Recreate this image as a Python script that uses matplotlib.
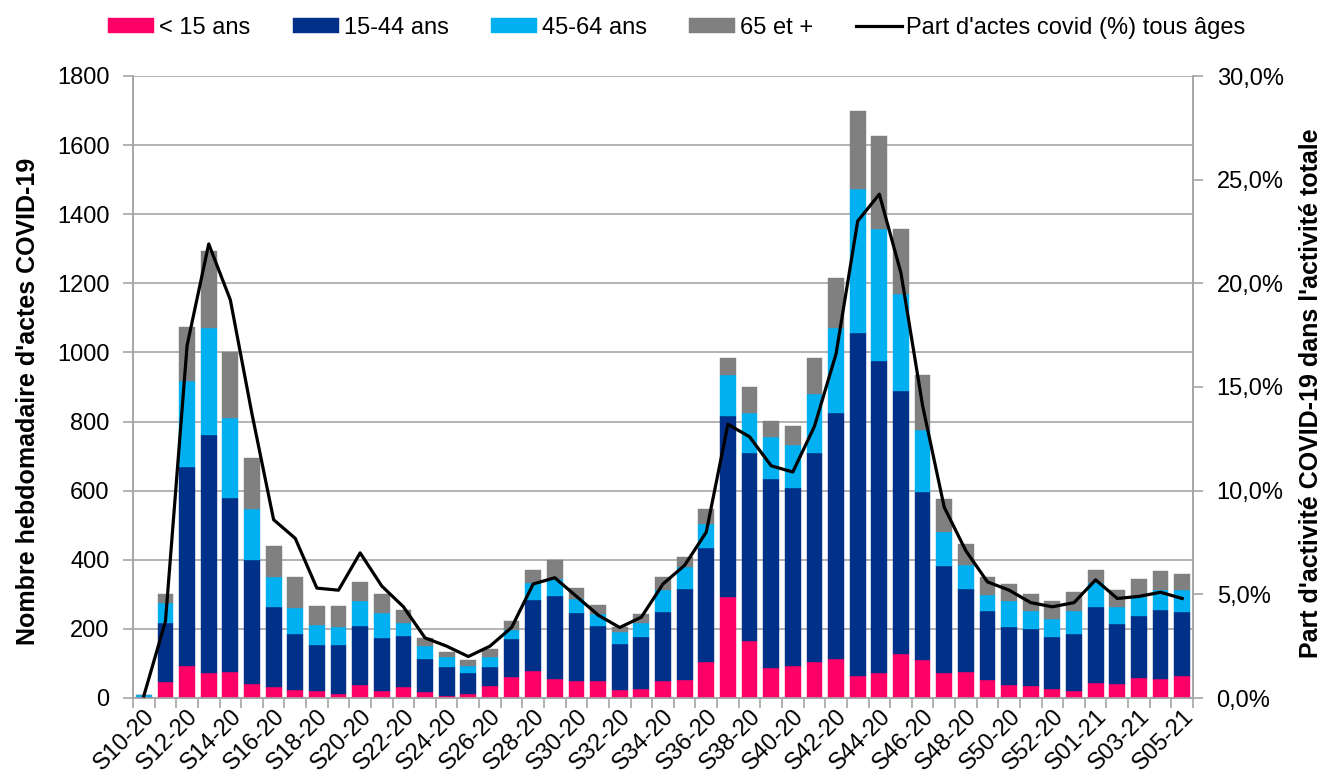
import matplotlib
matplotlib.use("Agg")
import matplotlib.pyplot as plt
import numpy as np
from matplotlib.ticker import FuncFormatter, MultipleLocator, FixedLocator

plt.rcParams['font.family'] = ['Liberation Sans', 'DejaVu Sans']

weeks = (["S%02d-20" % w for w in range(10, 54)] + ["S%02d-21" % w for w in range(1, 6)])

moins15 = [0, 47, 93, 71, 74, 40, 31, 22, 19, 13, 38, 21, 33, 16, 6, 12, 35, 62, 78, 54,
           48, 48, 23, 25, 49, 52, 104, 292, 165, 87, 93, 103, 112, 64, 72, 126, 110, 72, 75, 51,
           38, 36, 27, 19, 42, 40, 57, 55, 63]
a15_44 = [3, 169, 576, 691, 506, 360, 231, 162, 135, 141, 169, 154, 145, 98, 83, 61, 56, 109, 207, 242,
          199, 160, 134, 151, 201, 262, 331, 525, 545, 548, 515, 607, 712, 991, 904, 762, 485, 311, 240, 200,
          168, 165, 149, 167, 221, 175, 181, 201, 187]
a45_64 = [6, 58, 248, 310, 230, 146, 89, 76, 58, 52, 73, 70, 38, 36, 29, 20, 27, 26, 47, 49,
          40, 35, 33, 40, 62, 66, 68, 117, 116, 119, 124, 169, 246, 417, 381, 282, 180, 97, 71, 48,
          74, 50, 53, 67, 69, 48, 55, 57, 63]
a65plus = [1, 27, 156, 221, 191, 149, 89, 91, 54, 60, 56, 56, 38, 24, 16, 16, 24, 26, 38, 54,
           30, 26, 16, 28, 37, 29, 45, 50, 75, 48, 55, 104, 146, 226, 270, 188, 160, 96, 61, 50,
           51, 51, 52, 54, 38, 50, 50, 55, 46]
part_covid = [0.1, 3.7, 17.0, 21.9, 19.2, 13.7, 8.6, 7.7, 5.3, 5.2, 7.0, 5.4, 4.4, 2.9, 2.5, 2.0, 2.5, 3.4, 5.5, 5.8,
              4.9, 4.0, 3.4, 3.9, 5.5, 6.4, 8.0, 13.2, 12.6, 11.2, 10.9, 13.1, 16.6, 23.0, 24.3, 20.5, 14.1, 9.2, 7.1, 5.6,
              5.2, 4.6, 4.4, 4.6, 5.7, 4.8, 4.9, 5.1, 4.8]

series_names = ["< 15 ans", "15-44 ans", "45-64 ans", "65 et +"]
line_name = "Part d'actes covid (%) tous âges"
colors = ["#FF0066", "#003087", "#00B0F0", "#808080"]

FS = 17

fig = plt.figure(figsize=(13.23, 7.79), dpi=100)
ax = fig.add_axes([133/1323, 1-698/779, (1193-133)/1323, (698-76)/779])
ax2 = ax.twinx()

x = np.arange(len(weeks))
bottom = np.zeros(len(weeks))
handles = []
for vals, c, name in zip([moins15, a15_44, a45_64, a65plus], colors, series_names):
    v = np.array(vals, dtype=float)
    b = ax.bar(x, v, bottom=bottom, width=0.73, color=c, edgecolor=c, linewidth=0.3,
               label=name, zorder=3)
    handles.append(b)
    bottom += v

ln, = ax2.plot(x, part_covid, color="black", linewidth=2.3, label=line_name, zorder=5)
handles.append(ln)

grid_c = "#A6A6A6"
ax.set_xlim(-0.5, len(weeks) - 0.5)
ax.set_ylim(0, 1800)
ax2.set_ylim(0, 30)
ax.yaxis.set_major_locator(MultipleLocator(200))
ax2.yaxis.set_major_locator(MultipleLocator(5))
ax2.yaxis.set_major_formatter(FuncFormatter(lambda v, p: ("%.1f%%" % v).replace(".", ",")))

ax.grid(axis="y", color=grid_c, linewidth=1.2, zorder=0)
ax.set_axisbelow(True)

for a in (ax, ax2):
    for s in a.spines.values():
        s.set_color(grid_c)
        s.set_linewidth(1.2)
    a.spines["top"].set_visible(False)

# x ticks: marks at category boundaries, labels every 2 weeks
ax.xaxis.set_major_locator(FixedLocator(np.arange(-0.5, len(weeks), 1.0)))
ax.xaxis.set_major_formatter(FuncFormatter(lambda v, p: ""))
ax.xaxis.set_minor_locator(FixedLocator(x[::2]))
ax.set_xticklabels([weeks[i] for i in x[::2]], minor=True)
ax.tick_params(axis="x", which="major", length=7, color=grid_c, width=1.2, direction="out")
ax.tick_params(axis="x", which="minor", length=0, pad=5, labelsize=FS)
for lab in ax.get_xticklabels(minor=True):
    lab.set_rotation(45)
    lab.set_ha("right")
    lab.set_va("top")
    lab.set_rotation_mode("anchor")

ax.tick_params(axis="y", length=7, color=grid_c, width=1.2, labelsize=FS, pad=10)
ax2.tick_params(axis="y", length=7, color=grid_c, width=1.2, labelsize=FS, pad=10)

ax.set_ylabel("Nombre hebdomadaire d'actes COVID-19", fontsize=18, fontweight="bold")
ax.yaxis.set_label_coords(-0.088, 0.477)
ax2.set_ylabel("Part d'activité COVID-19 dans l'activité totale", fontsize=18, fontweight="bold",
               rotation=90)
ax2.yaxis.set_label_coords(1.1, 0.49)

fig.legend(handles=handles, labels=series_names + [line_name], loc="center",
           bbox_to_anchor=(677/1323, 1-28/779), ncol=5, frameon=False, fontsize=FS,
           handlelength=1.95, handleheight=0.6, handletextpad=0.2, columnspacing=1.8,
           borderaxespad=0, borderpad=0)

fig.savefig("out.png", dpi=100)
